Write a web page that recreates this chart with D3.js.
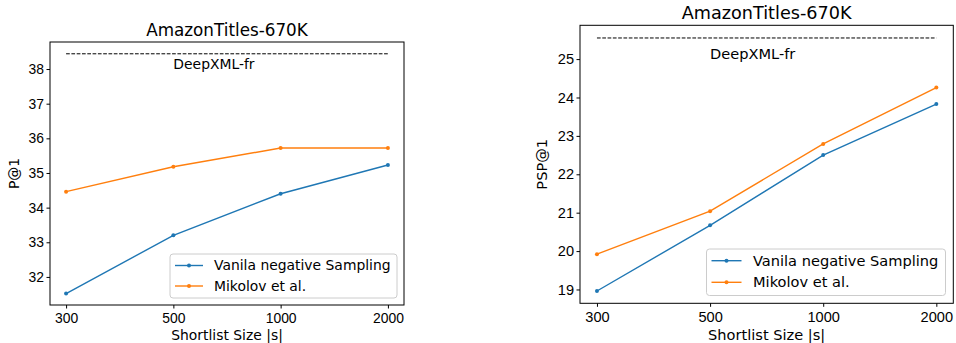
<!DOCTYPE html>
<html>
<head>
<meta charset="utf-8">
<script src="https://cdn.jsdelivr.net/npm/d3@7"></script>
<style>
  body { margin: 0; background: #fff; }
  svg { display: block; font-family: "DejaVu Sans", sans-serif; }
</style>
</head>
<body>
<svg id="chart" width="956" height="343"></svg>
<script>
const shortlist = ['300', '500', '1000', '2000'];
const seriesNames = ['Vanila negative Sampling', 'Mikolov et al.'];
const colors = ['#1f77b4', '#ff7f0e'];

const p1Vanila = [31.52, 33.2, 34.4, 35.23];
const p1Mikolov = [34.46, 35.18, 35.72, 35.72];
const p1Deep = 38.44;
const p1Ticks = [32, 33, 34, 35, 36, 37, 38];

const psp1Vanila = [18.96, 20.67, 22.5, 23.83];
const psp1Mikolov = [19.92, 21.04, 22.79, 24.26];
const psp1Deep = 25.55;
const psp1Ticks = [19, 20, 21, 22, 23, 24, 25];

const svg = d3.select('#chart');

function drawPanel(o) {
  const g = svg.append('g');
  const k = o.scale;

  // categories at 0..3 with a 5% margin each side, like matplotlib
  const span = (o.right - o.left) / 1.1;
  const xpos = d3.scaleLinear().domain([0, 3]).range([o.left + span * 0.05, o.right - span * 0.05]);
  const xs = name => xpos(shortlist.indexOf(name));

  const y = d3.scaleLinear().domain(o.yDomain).range([o.bottom, o.top]);

  // title
  g.append('text')
    .attr('x', (o.left + o.right) / 2)
    .attr('y', o.titleY)
    .attr('text-anchor', 'middle')
    .attr('font-size', 16.8 * k)
    .text('AmazonTitles-670K');

  // deepxml reference
  g.append('line')
    .attr('x1', xs('300')).attr('x2', xs('2000'))
    .attr('y1', y(o.deep)).attr('y2', y(o.deep))
    .attr('stroke', '#000').attr('stroke-width', 1)
    .attr('stroke-dasharray', '3.7,1.6');
  g.append('text')
    .attr('x', xs('500'))
    .attr('y', y(o.deepTextY))
    .attr('font-size', 13.9 * k)
    .text('DeepXML-fr');

  // series
  const line = d3.line().x(d => xs(d[0])).y(d => y(d[1]));
  o.series.forEach((vals, i) => {
    const pts = shortlist.map((c, j) => [c, vals[j]]);
    g.append('path')
      .attr('d', line(pts))
      .attr('fill', 'none')
      .attr('stroke', colors[i])
      .attr('stroke-width', 1.4);
    g.selectAll(null).data(pts).enter().append('circle')
      .attr('cx', d => xs(d[0])).attr('cy', d => y(d[1]))
      .attr('r', 2).attr('fill', colors[i]);
  });

  // axes
  const ax = g.append('g').attr('transform', `translate(0,${o.bottom})`)
    .call(d3.axisBottom(xpos).tickValues([0, 1, 2, 3]).tickFormat(i => shortlist[i]).tickSize(3.5).tickSizeOuter(0));
  ax.select('.domain').remove();
  ax.selectAll('text').attr('font-size', 13.9 * k).attr('fill', '#000').attr('dy', null).attr('y', o.tickLabelY - o.bottom);
  ax.selectAll('line').attr('stroke', '#000');

  const ay = g.append('g').attr('transform', `translate(${o.left},0)`)
    .call(d3.axisLeft(y).tickValues(o.ticks).tickFormat(d3.format('d')).tickSize(3.5).tickSizeOuter(0));
  ay.select('.domain').remove();
  ay.selectAll('text').attr('font-size', 13.9 * k).attr('fill', '#000').attr('x', -6);
  ay.selectAll('line').attr('stroke', '#000');

  g.append('rect')
    .attr('x', o.left).attr('y', o.top)
    .attr('width', o.right - o.left).attr('height', o.bottom - o.top)
    .attr('fill', 'none').attr('stroke', '#000').attr('stroke-width', 1);

  // axis labels
  g.append('text')
    .attr('x', (o.left + o.right) / 2).attr('y', o.xLabelY)
    .attr('text-anchor', 'middle').attr('font-size', 13.9 * k)
    .text('Shortlist Size |s|');
  g.append('text')
    .attr('transform', `translate(${o.yLabelX},${(o.top + o.bottom) / 2}) rotate(-90)`)
    .attr('text-anchor', 'middle').attr('font-size', 13.9 * k)
    .text(o.yLabel);

  // legend
  const L = o.legend;
  g.append('rect')
    .attr('x', L.x).attr('y', L.y).attr('width', L.w).attr('height', L.h)
    .attr('rx', 3).attr('fill', '#fff').attr('fill-opacity', 0.8)
    .attr('stroke', '#ccc').attr('stroke-width', 1);
  seriesNames.forEach((name, i) => {
    const ry = L.y + L.row0 + i * L.rowGap;
    g.append('line')
      .attr('x1', L.x + L.pad).attr('x2', L.x + L.pad + L.lineW)
      .attr('y1', ry).attr('y2', ry)
      .attr('stroke', colors[i]).attr('stroke-width', 1.4);
    g.append('circle')
      .attr('cx', L.x + L.pad + L.lineW / 2).attr('cy', ry)
      .attr('r', 2).attr('fill', colors[i]);
    g.append('text')
      .attr('x', L.textX).attr('y', ry).attr('dy', '0.35em')
      .attr('font-size', 13.9 * k)
      .text(name);
  });
}

drawPanel({
  left: 50, right: 404, top: 42, bottom: 305,
  yDomain: [31.19, 38.78], ticks: p1Ticks,
  series: [p1Vanila, p1Mikolov], deep: p1Deep, deepTextY: 38.0,
  scale: 1, titleY: 36, tickLabelY: 323, xLabelY: 340, yLabelX: 19, yLabel: 'P@1',
  legend: { x: 170, y: 254, w: 227, h: 44, pad: 5, lineW: 28, row0: 11.5, rowGap: 20.5, textX: 214 }
});

drawPanel({
  left: 580, right: 953.3, top: 25.3, bottom: 303.3,
  yDomain: [18.64, 25.88], ticks: psp1Ticks,
  series: [psp1Vanila, psp1Mikolov], deep: psp1Deep, deepTextY: 25.0,
  scale: 1.05, titleY: 18.5, tickLabelY: 322, xLabelY: 340, yLabelX: 547, yLabel: 'PSP@1',
  legend: { x: 706.5, y: 249, w: 239, h: 46.5, pad: 5, lineW: 30, row0: 11.7, rowGap: 21.6, textX: 753 }
});
</script>
</body>
</html>
